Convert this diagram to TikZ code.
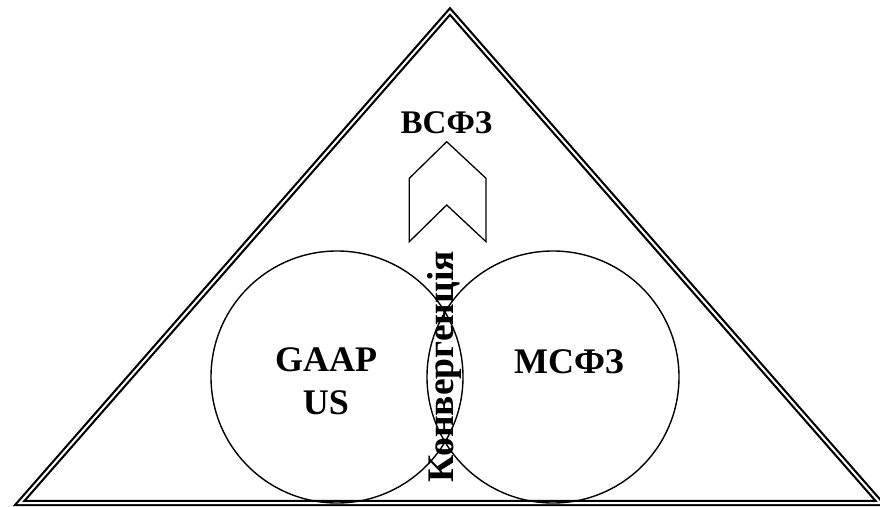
\documentclass[tikz,border=0pt]{standalone}
\usepackage{fontspec}
\setmainfont{Liberation Serif}
\begin{document}
\begin{tikzpicture}[x=1bp,y=-1bp,
  tri/.style={draw=black, line width=2.2bp, double=white, double distance=2bp, line join=miter},
  ring/.style={draw=black, line width=1.4bp, circle, minimum size=252bp, inner sep=0pt, outer sep=0pt},
  lbl/.style={font=\bfseries\fontsize{36bp}{43bp}\selectfont, inner sep=0pt, text=black},
  lblconv/.style={font=\bfseries\fontsize{37.6bp}{44bp}\selectfont, inner sep=0pt, text=black},
  lblsmall/.style={font=\bfseries\fontsize{33bp}{40bp}\selectfont, inner sep=0pt, text=black},
  chev/.style={draw=black, line width=1.3bp, line join=miter}]
\useasboundingbox (0,0) rectangle (880,507);
% outer triangle
\coordinate (tl) at (19.7,503);
\coordinate (tt) at (450,11.5);
\coordinate (tr) at (880.3,503);
\draw[tri] (tl) -- (tt) -- (tr) -- cycle;
% labels
\node[lblsmall, anchor=base] (vsfz) at (446.5,133.3) {ВСФЗ};
\node[lbl, align=center, anchor=north] (gaap) at (326,347) {GAAP\\US};
\node[lbl, anchor=base] (ifrs) at (569,373) {МСФЗ};
\node[lblconv, rotate=90, anchor=base] (conv) at (453,366.5) {Конвергенція};
% circles
\node[ring] (cleft) at (337,377) {};
\node[ring] (cright) at (553,377) {};
% chevron
\coordinate (c1) at (446.7,141.7);
\coordinate (c2) at (486,178.3);
\coordinate (c3) at (486,241.7);
\coordinate (c4) at (446.7,205);
\coordinate (c5) at (409.3,241.7);
\coordinate (c6) at (409.3,178.3);
\draw[chev] (c1) -- (c2) -- (c3) -- (c4) -- (c5) -- (c6) -- cycle;
\end{tikzpicture}
\end{document}
